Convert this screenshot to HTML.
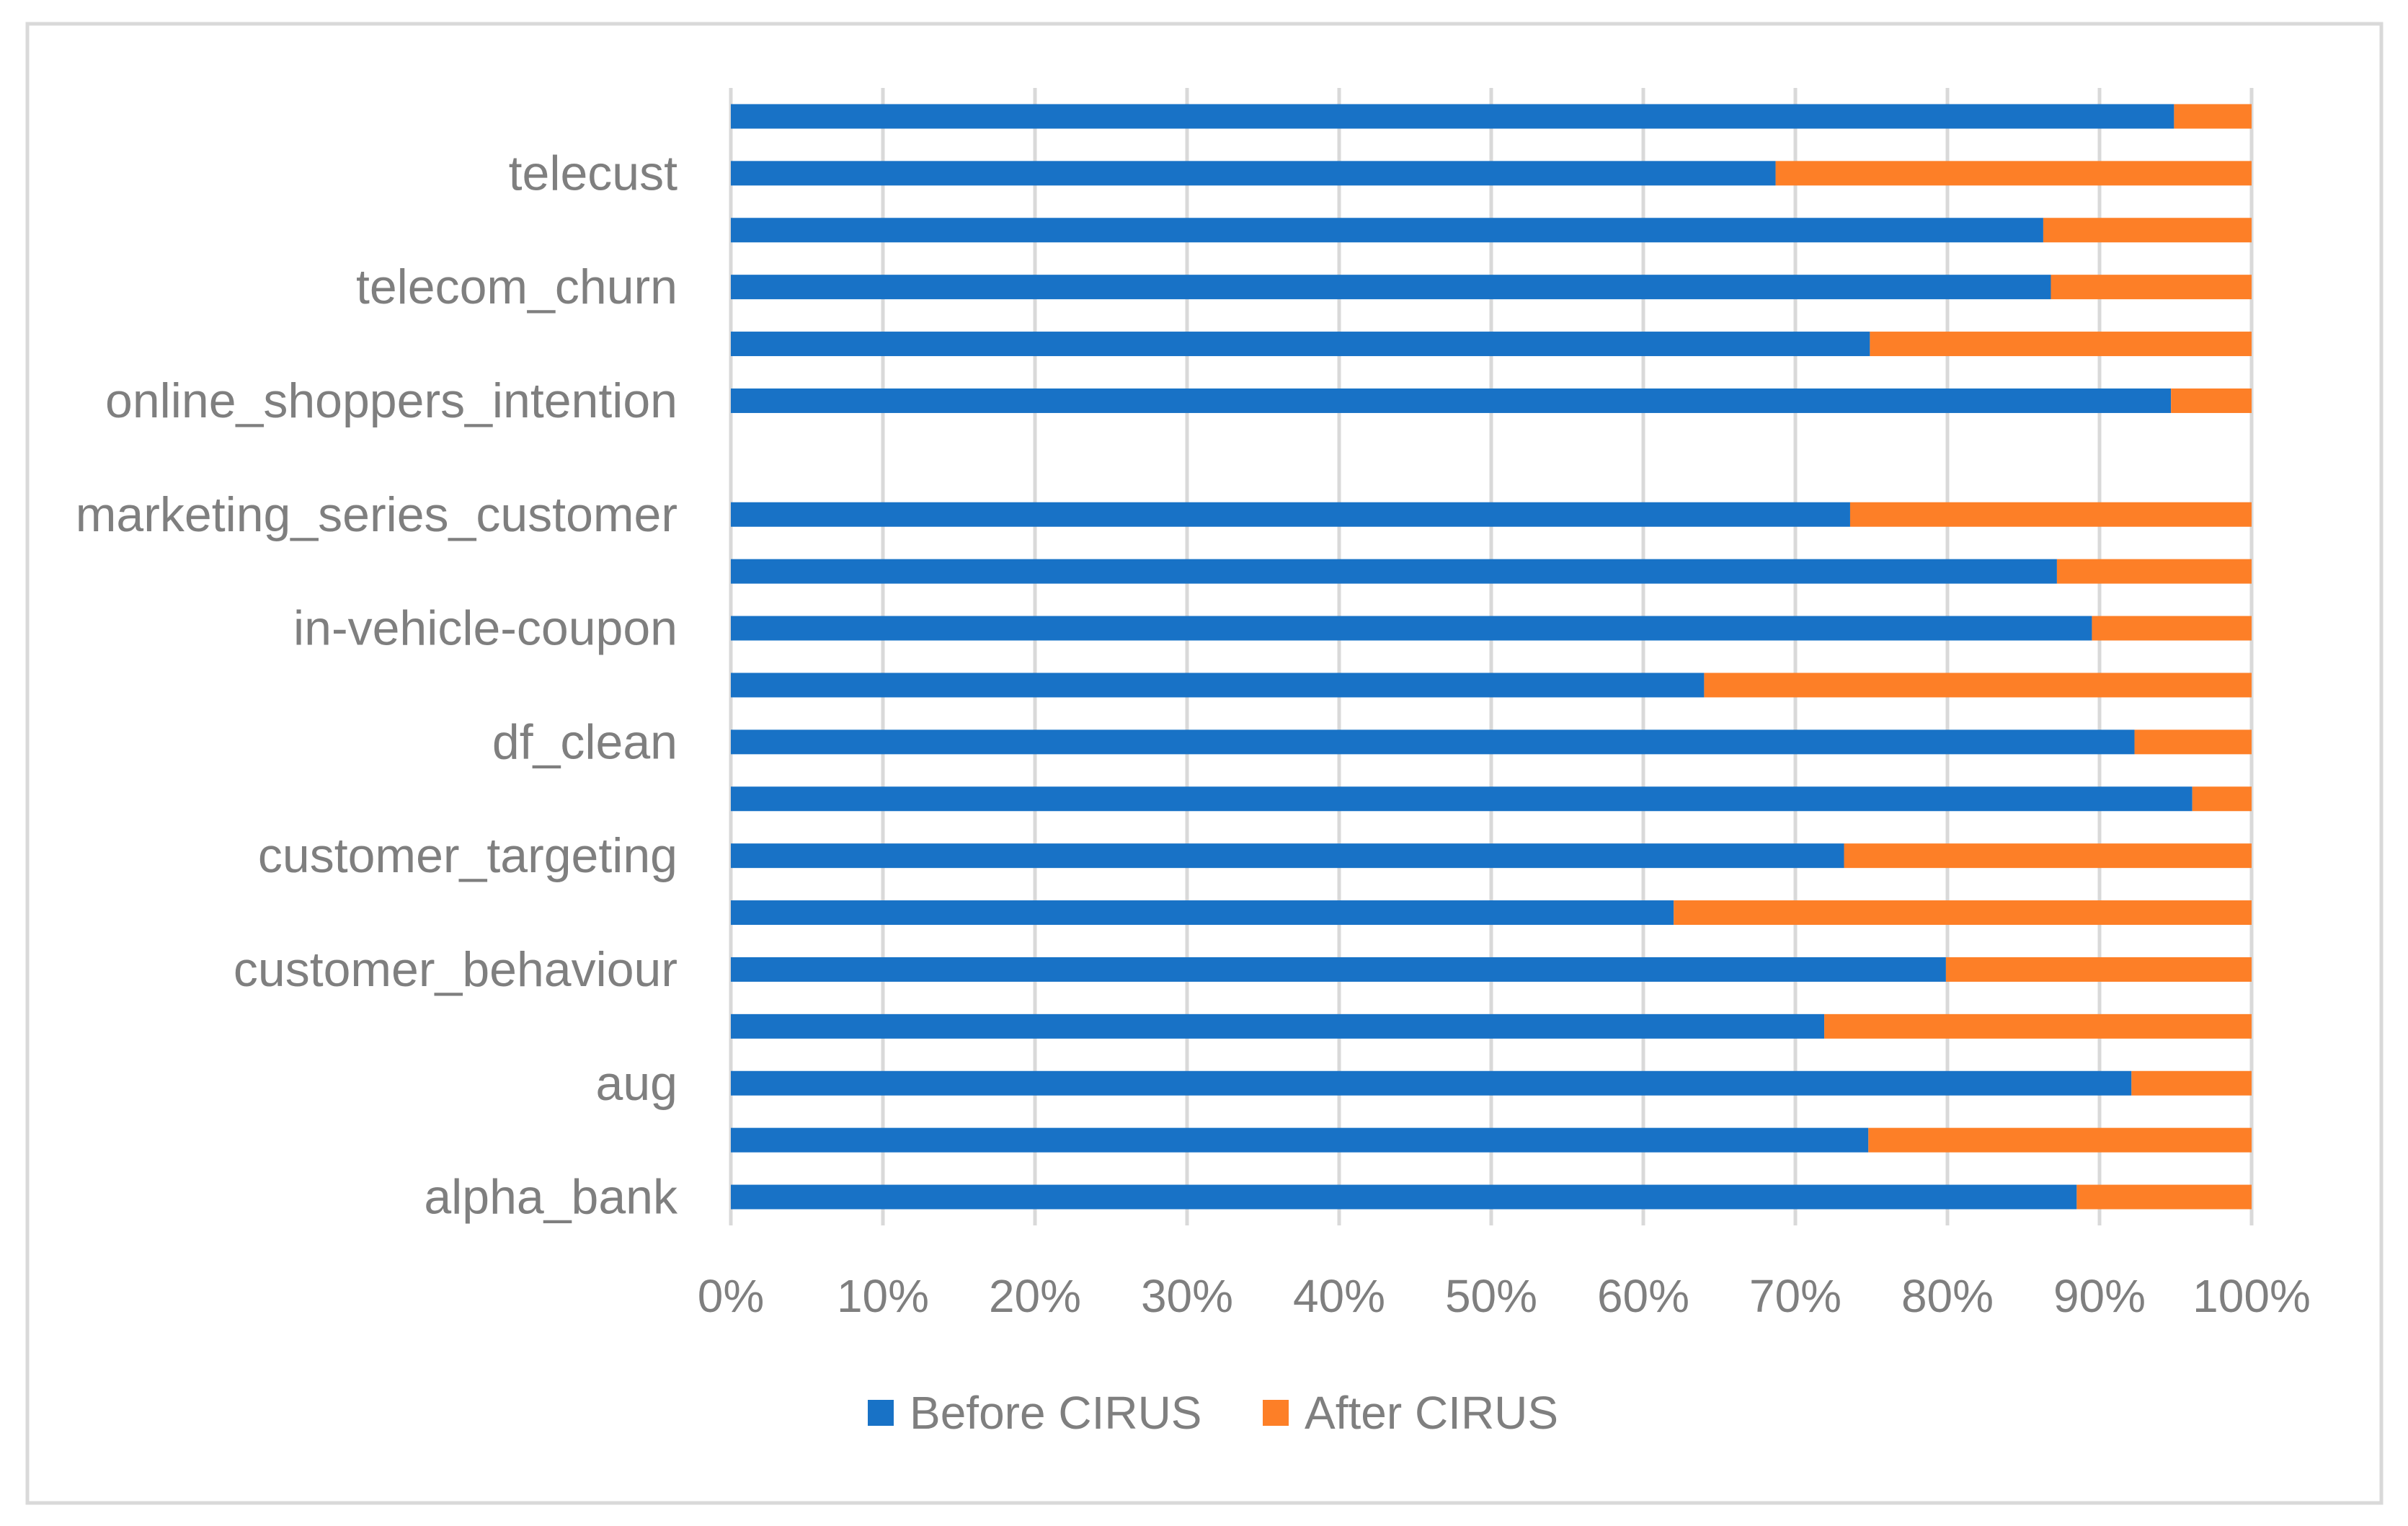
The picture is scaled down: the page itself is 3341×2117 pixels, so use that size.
<!DOCTYPE html>
<html><head><meta charset="utf-8"><style>
html,body{margin:0;padding:0;background:#fff}
svg{display:block}
text{font-family:"Liberation Sans",sans-serif;fill:#7f7f7f}
</style></head><body>
<svg id="chart" width="3341" height="2117" viewBox="0 0 3341 2117" xmlns="http://www.w3.org/2000/svg">
<rect x="38" y="33" width="3266" height="2052" fill="#fff" stroke="#d9d9d9" stroke-width="5"/>
<g id="grid"></g><g id="bars"></g><g id="labels"></g>
<g>
<rect x="1204" y="1942" width="36" height="36" fill="#1872c6"/>
<text x="1262" y="1982" font-size="64">Before CIRUS</text>
<rect x="1752" y="1942" width="36" height="36" fill="#fd7f27"/>
<text x="1810" y="1982" font-size="64">After CIRUS</text>
</g>
</svg>
<script>
const categories = ["alpha_bank","","aug","","customer_behaviour","","customer_targeting","","df_clean","","in-vehicle-coupon","","marketing_series_customer","","online_shoppers_intention","","telecom_churn","","telecust",""];
const beforeValues = [0.885,0.748,0.921,0.719,0.799,0.620,0.732,0.961,0.923,0.640,0.895,0.872,0.736,0,0.947,0.749,0.868,0.863,0.687,0.949];
const afterValues = [0.115,0.252,0.079,0.281,0.201,0.380,0.268,0.039,0.077,0.360,0.105,0.128,0.264,0,0.053,0.251,0.132,0.137,0.313,0.051];
const xTicks = [0,0.1,0.2,0.3,0.4,0.5,0.6,0.7,0.8,0.9,1];
const xTickLabels = ["0%","10%","20%","30%","40%","50%","60%","70%","80%","90%","100%"];

const NS="http://www.w3.org/2000/svg";
const X0=1014, X1=3124, YT=122, YB=1700;
const slot=(YB-YT)/categories.length, barH=34;
const xs=v=>X0+v*(X1-X0);
const yc=i=>YB-(i+0.5)*slot;
function mk(tag,attrs,parent){const e=document.createElementNS(NS,tag);for(const k in attrs)e.setAttribute(k,attrs[k]);parent.appendChild(e);return e;}
const grid=document.getElementById('grid'),bars=document.getElementById('bars'),labels=document.getElementById('labels');
xTicks.forEach((t,i)=>{
  const l=mk('line',{x1:xs(t),x2:xs(t),y1:YT,y2:YB,stroke:'#d9d9d9','stroke-width':5},grid);
  
  
  const tx=mk('text',{x:xs(t),y:1820,'font-size':64,'text-anchor':'middle'},labels);
  tx.textContent=xTickLabels[i];
  
  
});
const total=beforeValues.map((b,i)=>b+afterValues[i]);
categories.forEach((c,i)=>{
  const tot=total[i]||1;
  const b=beforeValues[i]/tot, a=afterValues[i]/tot;
  if(total[i]>0){
    const r1=mk('rect',{x:xs(0),y:yc(i)-barH/2,width:xs(b)-xs(0),height:barH,fill:'#1872c6'},bars);
    
    
    const r2=mk('rect',{x:xs(b),y:yc(i)-barH/2,width:xs(b+a)-xs(b),height:barH,fill:'#fd7f27'},bars);
    
    
  }
  if(c){
    const t=mk('text',{x:940,y:yc(i)+23,'font-size':68,'text-anchor':'end'},labels);
    t.textContent=c;
    
    
  }
});
</script>
</body></html>
